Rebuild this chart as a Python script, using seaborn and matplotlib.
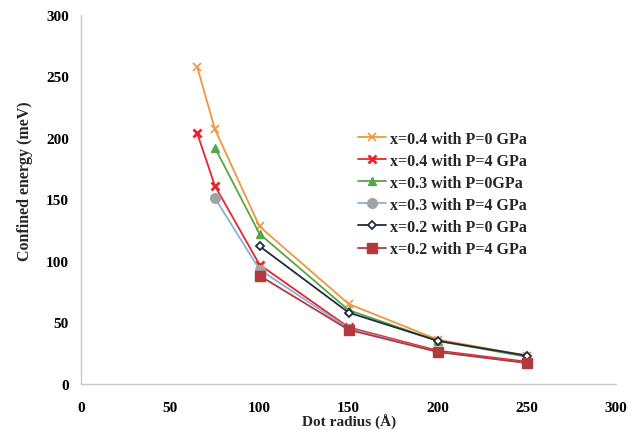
import matplotlib
matplotlib.use("Agg")
import matplotlib.pyplot as plt
import seaborn as sns
import pandas as pd

# Data
series_names = ["x=0.4 with P=0 GPa", "x=0.4 with P=4 GPa", "x=0.3 with P=0GPa",
                "x=0.3 with P=4 GPa", "x=0.2 with P=0 GPa", "x=0.2 with P=4 GPa"]
r_04_p0 = [65, 75, 100, 150, 200, 250]
e_04_p0 = [258, 207, 128, 65, 36, 23]
r_04_p4 = [65, 75, 100, 150, 200, 250]
e_04_p4 = [204, 161, 97, 46, 27, 18]
r_03_p0 = [75, 100, 150, 200, 250]
e_03_p0 = [192, 122, 60, 35, 22]
r_03_p4 = [75, 100, 150, 200, 250]
e_03_p4 = [151, 93, 45, 26, 17]
r_02_p0 = [100, 150, 200, 250]
e_02_p0 = [112, 58, 35, 23]
r_02_p4 = [100, 150, 200, 250]
e_02_p4 = [88, 44, 26, 17]
x_ticks = [0, 50, 100, 150, 200, 250, 300]
y_ticks = [0, 50, 100, 150, 200, 250, 300]

radii = [r_04_p0, r_04_p4, r_03_p0, r_03_p4, r_02_p0, r_02_p4]
energies = [e_04_p0, e_04_p4, e_03_p0, e_03_p4, e_02_p0, e_02_p4]

rows = []
for name, rr, ee in zip(series_names, radii, energies):
    for a, b in zip(rr, ee):
        rows.append({"series": name, "radius": a, "energy": b})
df = pd.DataFrame(rows)

sns.set_theme(style="white")
plt.rcParams["font.family"] = ["Liberation Serif", "DejaVu Serif"]

line_colors = ["#F0963C", "#E8262A", "#55A845", "#86B0E0", "#1F2A44", "#B23A3C"]
marker_faces = ["#F0963C", "#E8262A", "#55A845", "#A3A3A3", "white", "#B23A3C"]
marker_edges = ["#F0963C", "#E8262A", "#55A845", "#A3A3A3", "#1F2A44", "#B23A3C"]
markers = ["x", "x", "^", "o", "D", "s"]
msizes = [6, 6, 6, 7, 4.5, 6.5]
mews = [1.2, 2.0, 1, 1, 1.3, 1]

fig = plt.figure(figsize=(6.35, 4.31), dpi=100)
ax = fig.add_axes([0.128, 0.107, 0.842, 0.856])

for i, name in enumerate(series_names):
    sub = df[df["series"] == name]
    sns.lineplot(data=sub, x="radius", y="energy", ax=ax, color=line_colors[i],
                 marker=markers[i], markersize=msizes[i],
                 markerfacecolor=marker_faces[i], markeredgecolor=marker_edges[i],
                 markeredgewidth=mews[i], linewidth=1.3, label=name)

ax.set_xlim(0, 300)
ax.set_ylim(0, 300)
ax.set_xticks(x_ticks)
ax.set_yticks(y_ticks)
for lab in ax.get_xticklabels() + ax.get_yticklabels():
    lab.set_fontweight("bold")
    lab.set_fontsize(11)
ax.set_xlabel("Dot radius (Å)", fontsize=11, fontweight="bold", labelpad=0)
ax.set_ylabel("Confined energy (meV)", fontsize=11.5, fontweight="bold")
ax.yaxis.set_label_coords(-0.09, 0.553)

for s in ["top", "right"]:
    ax.spines[s].set_visible(False)
for s in ["left", "bottom"]:
    ax.spines[s].set_color("#C8C8C8")
    ax.spines[s].set_linewidth(1)
ax.tick_params(axis="both", which="both", length=4, color="#C8C8C8", direction="out",
               colors="black", pad=5)
ax.tick_params(axis="x", direction="inout", length=6, pad=9)
ax.xaxis.set_tick_params(color="#C8C8C8")
ax.yaxis.set_tick_params(color="#C8C8C8")

leg = ax.legend(loc="upper left", bbox_to_anchor=(0.49, 0.725), frameon=False,
                prop={"family": "Liberation Serif", "weight": "bold", "size": 11.5},
                handlelength=1.8, handletextpad=0.2, labelspacing=0.38)

fig.savefig("out.png", dpi=100)
